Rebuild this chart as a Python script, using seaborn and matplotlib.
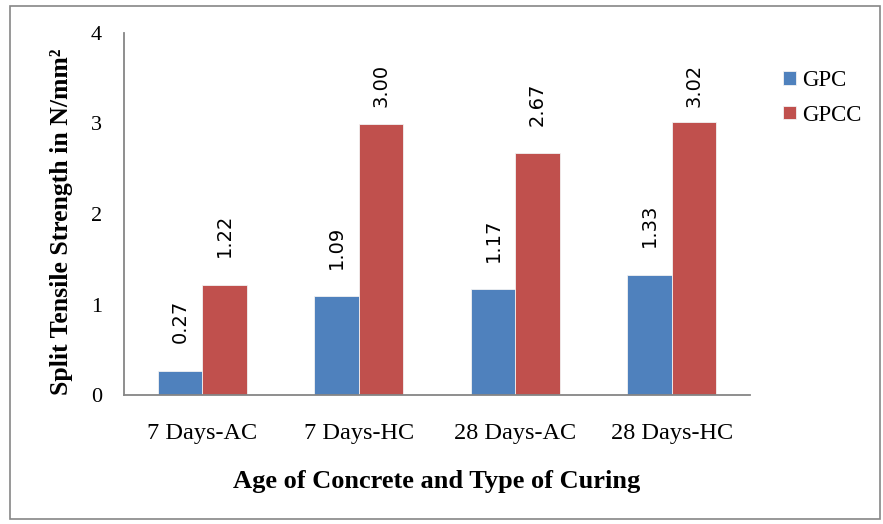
import matplotlib
matplotlib.use("Agg")
import matplotlib.pyplot as plt
import matplotlib.patches as patches
import seaborn as sns
import pandas as pd

# Split tensile strength (N/mm²) by age of concrete and curing type
categories = ["7 Days-AC", "7 Days-HC", "28 Days-AC", "28 Days-HC"]
gpc = [0.27, 1.09, 1.17, 1.33]
gpcc = [1.22, 3.00, 2.67, 3.02]
series_names = ["GPC", "GPCC"]
y_ticks = [0, 1, 2, 3, 4]

df = pd.DataFrame({
    "category": categories * 2,
    "mix": [series_names[0]] * len(categories) + [series_names[1]] * len(categories),
    "strength": gpc + gpcc,
})

sns.set_theme(style="white", rc={"text.color": "black", "axes.labelcolor": "black",
                                 "xtick.color": "black", "ytick.color": "black"})
plt.rcParams["font.family"] = ["Liberation Serif", "DejaVu Serif"]

fig = plt.figure(figsize=(8.83, 5.24), dpi=100)
ax = fig.add_axes([124 / 883, 1 - 395 / 524, (750 - 124) / 883, (395 - 33) / 524])

palette = {"GPC": "#4F81BD", "GPCC": "#C0504D"}
sns.barplot(data=df, x="category", y="strength", hue="mix", order=categories,
            hue_order=series_names, palette=palette, width=0.57, saturation=1,
            edgecolor="#f2f2f2", linewidth=0.6, ax=ax)

# value labels above each bar, kept inside the plot area
for container in ax.containers:
    for bar in container:
        h = bar.get_height()
        xc = bar.get_x() + bar.get_width() / 2
        ax.text(xc, min(h + 0.30, 3.18), f"{h:.2f}", rotation=90,
                ha="center", va="bottom", fontsize=14, family="DejaVu Sans",
                color="black")

ax.set_ylim(0, 4)
ax.set_xlim(-0.5, len(categories) - 0.5)
ax.set_yticks(y_ticks)
ax.set_yticklabels([str(t) for t in y_ticks], fontsize=16)

# category ticks between groups
ax.set_xticks(range(len(categories)))
ax.set_xticklabels(categories, fontsize=17.5)
ax.set_xticks([i - 0.5 for i in range(len(categories) + 1)], minor=True)
ax.tick_params(axis="x", which="major", length=0, pad=20, labelcolor="black")
ax.tick_params(axis="x", which="minor", length=6, width=1.3, color="#868686",
               direction="out")
ax.tick_params(axis="y", length=6, width=1.3, color="#868686", direction="out",
               pad=10, labelcolor="black")

for side in ("top", "right"):
    ax.spines[side].set_visible(False)
for side in ("left", "bottom"):
    ax.spines[side].set_color("#868686")
    ax.spines[side].set_linewidth(1.3)

ax.set_xlabel("Age of Concrete and Type of Curing", fontsize=19,
              fontweight="bold", color="black")
ax.set_ylabel("Split Tensile Strength in N/mm²", fontsize=18.5,
              fontweight="bold", color="black")
ax.xaxis.set_label_coords(0.5, -0.207)
ax.yaxis.set_label_coords(-0.081, 0.478)

leg = ax.legend(loc="upper left", bbox_to_anchor=(1.038, 0.922), frameon=False,
                fontsize=16.5, handlelength=0.55, handleheight=0.55,
                handletextpad=0.3, labelspacing=0.58, borderaxespad=0)
for t in leg.get_texts():
    t.set_color("black")

# outer chart border
fig.patches.append(patches.Rectangle((10 / 883, 1 - 519 / 524), 870 / 883,
                                     513 / 524, transform=fig.transFigure,
                                     fill=False, edgecolor="#868686",
                                     linewidth=1.2))

fig.savefig("out.png", dpi=100)
